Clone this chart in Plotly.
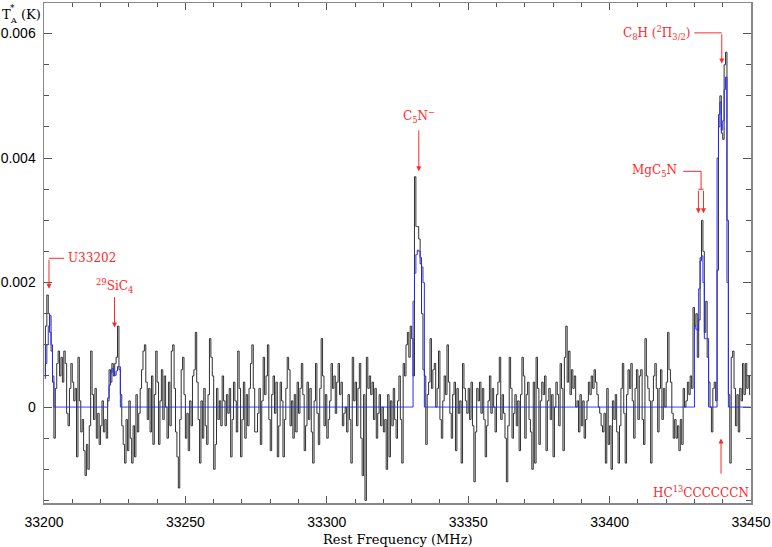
import numpy as np
import plotly.graph_objects as go

# ---------------- data (antenna temperature in units of 0.1 mK) ----------------
freq_start = 33200.25   # MHz, centre of first channel
chan_width = 0.5        # MHz

seg0 = [5, 13, 18, 15, 12, 9, 4, -5, 3, 7, 9, 5, 8, 4, 9, 7, -1, -3, 3, 7, 4, 1, 3, -8, 8,
        1, -4, -2, -7, -11, -6, -10, -3, 9, 2, -2, 3, -5, -1, -6, -3, 1, -4, -2, -5, 1, 6, 4, 7, 5]
seg1 = [7, 8, 13, 6, 2, -3, -6, -9, -2, -7, 1, -5, -9, -3, -8, 2, -4, -1, 3, 6, 9, 10, 4, -2,
        3, -4, 5, -6, 2, 9, 4, -6, 1, 6, -2, 5, 0, -5, 4, -3, 9, 10, 3, -4, -8, -13, -2, 6, 8, 2]
seg2 = [-5, -1, -7, 1, -3, 5, 6, 12, 4, -2, -9, 1, -5, 3, -3, -6, 2, 11, 8, 5, -10, -6,
        3, -2, 1, -3, 5, 1, -3, 2, -1, 3, -8, -2, 4, 1, -4, 9, 3, -8, -2, 4, -5, 2, -3, 3, 7, 10, 3, -4]
seg3 = [-4, -1, 3, -6, 1, 8, 2, 5, 10, -2, -7, 2, 5, -1, 4, -8, -3, 4, 1, -8, -2, 3, 8, 6, -3, 1, -5,
        2, -4, 4, -1, 3, 7, 2, -7, -3, 4, -2, 3, -4, -9, 1, 7, -1, -6, 3, 11, 5, -3, 2]
seg4 = [-5, -2, 1, 7, 3, 5, -1, 4, 7, 2, 4, -3, -1, 0, -4, 2, -2, -9, 8, 1, 4, -3, 3, 7, -5, -11,
        2, -15, 8, 3, 5, 2, 4, -2, 3, -5, -1, 2, -3, 0, -4, -2, -10, 2, -8, 1, -3, 3, -2, -5]
seg5 = [1, 5, -2, -9, 7, 5, 10, 12, 8, 13, 11, 5, 37, 29, 29, 27, 23, 15, 6,
        5, -6, 2, 4, 11, 3, 6, 7, 0, 3, 9, -2, -5, 1, 5, 2, 10, 4, -1, -5, 2, 4, -7, 3, -1, 1, -9, 7, 3, 1, -1]
seg6 = [3, -2, 4, -3, -12, -4, 3, 1, 4, -1, 3, -2, -8, -3, 1, 5, -1, 3, 0, -4, 2, 4, 8, -2, 2,
        -1, -5, -12, -3, 8, 3, -5, -1, 2, -3, 1, -7, 2, 8, 5, -5, 2, 4, -2, -4, -10, 4, -9, 8, 3]
seg7 = [-6, 1, 4, 2, 5, -7, 1, 3, -2, 2, -8, 0, 4, 2, -3, 7, 3, -7, 8, 13, 4, 9, 2, 6, 3, 5, 0, 1, -4, 2,
        -3, 1, -5, -2, 1, 4, 2, 5, 3, 6, 4, 2, 0, -1, -3, -4, -1, -9, 3, -6]
seg8 = [-3, -10, 1, -2, 2, -4, -9, -3, 3, 7, -1, -9, 2, 6, 3, 7, 1, -5, 3, 6, -2, 5, 6, -2, -6,
        11, 5, 3, 1, -9, 1, 5, 7, 3, -4, 3, 6, -2, 3, 0, 4, 12, 6, 4, -1, -5, -2, -5, -3, -7]
seg9 = [-2, -6, 3, 0, 1, 4, 2, 5, 3, 16, 13, 15, 8, 14, 24, 30, 25, 12, 17, 8, 4, 0, -4, 3, 4, 1,
        22, 45, 50, 44, 43, 55, 57, 30, 2, -9, 8, 9, 3, -3, 2, -4, 3, 1, 7, 2, 7, 3, 5, 2]

# fitted line models (0.1 mK) and the frequency of their first channel
fit_u33202 = [4.6, 7, 10, 13, 14.7, 10, 5]
fit_u33202_f0 = 33200.25
fit_sic4 = [1.5, 3.5, 5.5, 6.2, 5.6, 5.1, 5.8, 6.5, 6.5]
fit_sic4_f0 = 33222.75
fit_c5n = [17, 21.5, 24.5, 25.2, 25, 24, 22.5, 20]
fit_c5n_f0 = 33330.75
fit_mgc5n = [13, 12.5, 12.3, 19, 23.5, 24.3, 20, 11, 11, 11]
fit_mgc5n_f0 = 33430.25
fit_c8h = [40, 47, 49, 44.5, 46, 51, 53, 20]
fit_c8h_f0 = 33438.25

# ---------------- build arrays ----------------
spec = np.array(seg0 + seg1 + seg2 + seg3 + seg4 + seg5 + seg6 + seg7 + seg8 + seg9, float) * 1e-4
freq = freq_start + chan_width * np.arange(len(spec))
model = np.zeros(len(spec))
for f0, vals in [(fit_u33202_f0, fit_u33202), (fit_sic4_f0, fit_sic4), (fit_c5n_f0, fit_c5n),
                 (fit_mgc5n_f0, fit_mgc5n), (fit_c8h_f0, fit_c8h)]:
    i0 = int(round((f0 - freq_start) / chan_width))
    model[i0:i0 + len(vals)] = np.array(vals) * 1e-4

fig = go.Figure()
fig.add_trace(go.Scatter(x=freq, y=spec, mode="lines", line=dict(color="#1a1a1a", width=0.9, shape="hvh"),
                         hoverinfo="skip", showlegend=False))
fig.add_trace(go.Scatter(x=freq, y=model, mode="lines", line=dict(color="rgb(40,40,255)", width=1, shape="hvh"),
                         hoverinfo="skip", showlegend=False))

RED = "rgb(255,40,40)"
LFONT = dict(family="DejaVu Serif", size=12, color=RED)
ann = []
shapes = []

def arrow(x, ytip, ystart):
    ann.append(dict(x=x, y=ytip, ax=x, ay=ystart, xref="x", yref="y", axref="x", ayref="y",
                    showarrow=True, arrowhead=2, arrowsize=1, arrowwidth=1, arrowcolor=RED, text=""))

def hline(x0, x1, y):
    shapes.append(dict(type="line", x0=x0, x1=x1, y0=y, y1=y, xref="x", yref="y",
                       line=dict(color=RED, width=1)))

def label(x, y, text, xanchor="center"):
    ann.append(dict(x=x, y=y, xref="x", yref="y", text=text, showarrow=False, font=LFONT,
                    xanchor=xanchor, yanchor="middle"))

# U33202
arrow(33201.76, 0.00190, 0.00239)
hline(33201.76, 33207.06, 0.00239)
label(33207.65, 0.00239, "U33202", "left")
# 29SiC4
arrow(33224.94, 0.00128, 0.00179)
label(33224.94, 0.00194, "<sup>29</sup>SiC<sub>4</sub>")
# C5N-
arrow(33332.53, 0.00379, 0.00447)
label(33332.53, 0.00467, "C<sub>5</sub>N<sup>−</sup>")
# MgC5N
hline(33426.0, 33432.35, 0.003787)
shapes.append(dict(type="line", x0=33432.35, x1=33432.35, y0=0.003787, y1=0.003499, xref="x", yref="y",
                   line=dict(color=RED, width=1)))
hline(33431.4, 33433.2, 0.003499)
arrow(33431.4, 0.003115, 0.003499)
arrow(33433.2, 0.003115, 0.003499)
label(33424.6, 0.003787, "MgC<sub>5</sub>N", "right")
# C8H
hline(33429.9, 33439.66, 0.006011)
arrow(33439.66, 0.00552, 0.006011)
label(33429.2, 0.006011, "C<sub>8</sub>H (<sup>2</sup>Π<sub>3/2</sub>)", "right")
# HC13CCCCCCN
arrow(33439.4, -0.000506, -0.001093)
label(33432.26, -0.00136, "HC<sup>13</sup>CCCCCCN")

# axis titles
TF = dict(family="DejaVu Serif", size=13, color="black")
ann.append(dict(xref="paper", yref="paper", x=0.5, y=-0.0737, text="Rest Frequency (MHz)", showarrow=False,
                font=TF, xanchor="center", yanchor="middle"))
ann.append(dict(xref="paper", yref="paper", x=-0.0533, y=0.978, text="T", showarrow=False,
                font=dict(family="DejaVu Serif", size=13, color="black"), xanchor="center", yanchor="middle"))
ann.append(dict(xref="paper", yref="paper", x=-0.0450, y=0.991, text="*", showarrow=False,
                font=dict(family="DejaVu Serif", size=9, color="black"), xanchor="center", yanchor="middle"))
ann.append(dict(xref="paper", yref="paper", x=-0.0435, y=0.966, text="A", showarrow=False,
                font=dict(family="DejaVu Serif", size=8, color="black"), xanchor="center", yanchor="middle"))
ann.append(dict(xref="paper", yref="paper", x=-0.0188, y=0.977, text="(K)", showarrow=False,
                font=TF, xanchor="center", yanchor="middle"))

AX = dict(showgrid=False, zeroline=False, showline=True, linecolor="#888", linewidth=1.5, mirror="allticks",
          ticks="inside", tickcolor="#555", tickwidth=1,
          tickfont=dict(family="Liberation Sans", size=14, color="black"))

fig.update_xaxes(**AX, range=[33200, 33450], tickvals=[33200, 33250, 33300, 33350, 33400, 33450],
                 ticktext=["33200", "33250", "33300", "33350", "33400", "33450"], ticklen=7,
                 minor=dict(dtick=10, tick0=33200, ticks="inside", ticklen=4, tickcolor="#555"),
                 ticklabelstandoff=6)
fig.update_yaxes(**AX, range=[-0.001541, 0.006491], tickvals=[0, 0.002, 0.004, 0.006],
                 ticktext=["0", "0.002", "0.004", "0.006"], ticklen=8,
                 minor=dict(dtick=0.0005, tick0=0, ticks="inside", ticklen=5, tickcolor="#555"),
                 ticklabelstandoff=4)

fig.update_layout(width=772, height=547, margin=dict(l=43, r=20, t=1, b=44),
                  paper_bgcolor="white", plot_bgcolor="white", annotations=ann, shapes=shapes,
                  showlegend=False)

fig.write_html("out.html", config={"displayModeBar": False, "staticPlot": True},
               post_script="document.body.style.margin='0';document.body.style.overflow='hidden';")
